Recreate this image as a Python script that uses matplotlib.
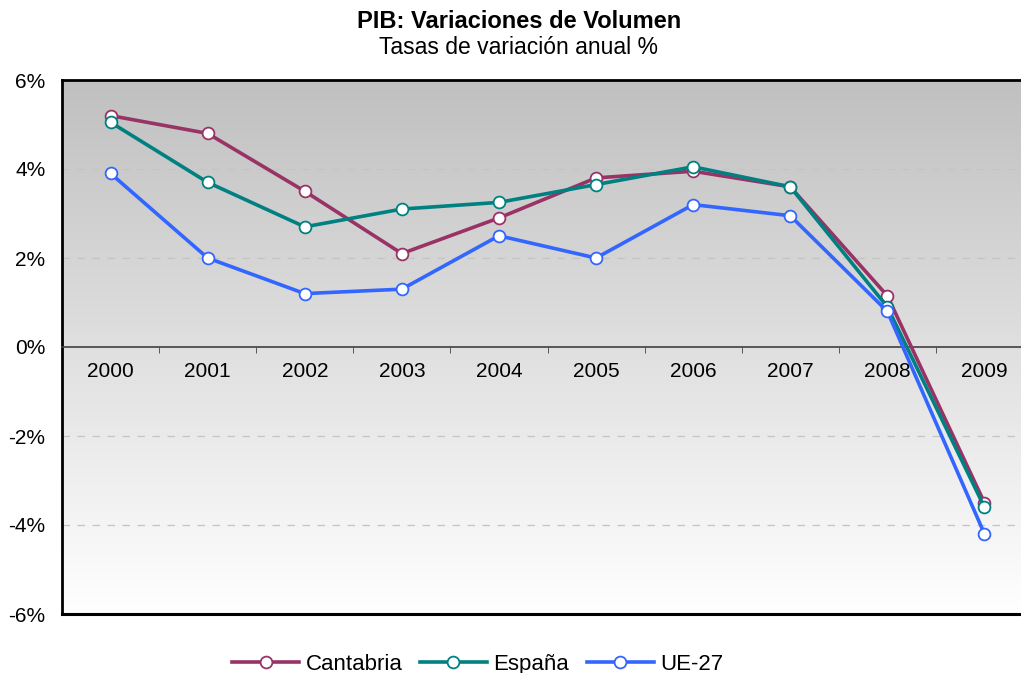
import numpy as np
import matplotlib
matplotlib.use('Agg')
import matplotlib.pyplot as plt

plt.rcParams['font.family'] = ['Liberation Sans', 'DejaVu Sans']

# Data
years = ['2000', '2001', '2002', '2003', '2004', '2005', '2006', '2007', '2008', '2009']
cantabria = [5.2, 4.8, 3.5, 2.1, 2.9, 3.8, 3.95, 3.6, 1.15, -3.5]
espana = [5.05, 3.7, 2.7, 3.1, 3.25, 3.65, 4.05, 3.6, 0.9, -3.6]
ue27 = [3.9, 2.0, 1.2, 1.3, 2.5, 2.0, 3.2, 2.95, 0.8, -4.2]

series_names = ['Cantabria', 'España', 'UE-27']
series_colors = ['#993366', '#008080', '#3366FF']

fig = plt.figure(figsize=(10.21, 6.73), dpi=100)
# axes right edge runs a bit past the figure, like in the original
ax = fig.add_axes([62 / 1021, 59 / 673, 971 / 1021, 534 / 673])

x = np.arange(len(years))
ax.set_xlim(-0.5, len(years) - 0.5)

# gray (top) to white (bottom) gradient
grad = np.linspace(0, 1, 256).reshape(-1, 1)
bg = matplotlib.colors.LinearSegmentedColormap.from_list('bg', ['#c0c0c0', '#ffffff'])
ax.imshow(grad, cmap=bg, extent=[-0.5, len(years) - 0.5, -6, 6],
          origin='upper', aspect='auto', zorder=0)
ax.set_ylim(-6, 6)

for yv in [4, 2, -2, -4]:
    ax.axhline(yv, color='#c4c4c4', lw=0.9, ls=(0, (6, 6)), zorder=1)

for vals, name, col in zip([cantabria, espana, ue27], series_names, series_colors):
    ax.plot(x, vals, color=col, lw=2.6, marker='o', markersize=8.5,
            markerfacecolor='white', markeredgecolor=col, markeredgewidth=1.3,
            label=name, zorder=3)

# category axis sits on the zero line
ax.spines['bottom'].set_position(('data', 0))
ax.spines['bottom'].set_color('#404040')
ax.spines['bottom'].set_linewidth(1.2)
ax.axhline(-6, color='black', lw=2.2, clip_on=False, zorder=4)
ax.spines['left'].set_linewidth(2.0)
ax.spines['top'].set_linewidth(2.0)
ax.spines['right'].set_visible(False)

ax.set_xticks(x)
ax.set_xticklabels(years, fontsize=15)
ax.set_xticks(x[:-1] + 0.5, minor=True)
ax.tick_params(axis='x', which='major', length=0, pad=11)
ax.tick_params(axis='x', which='minor', length=4, direction='out', color='#404040')

ax.set_yticks([-6, -4, -2, 0, 2, 4, 6])
ax.set_yticklabels(['-6%', '-4%', '-2%', '0%', '2%', '4%', '6%'], fontsize=15)
ax.tick_params(axis='y', length=0, pad=12)

fig.text(0.508, 0.968, 'PIB: Variaciones de Volumen', ha='center', va='center',
         fontsize=17, fontweight='bold')
fig.text(0.508, 0.930, 'Tasas de variación anual %', ha='center', va='center', fontsize=16.5)

fig.legend(loc='center', bbox_to_anchor=(0.468, 0.013), ncol=3, frameon=False,
           fontsize=16, handlelength=3.0, columnspacing=0.8, handletextpad=0.3)

fig.savefig('out.png', dpi=100)
